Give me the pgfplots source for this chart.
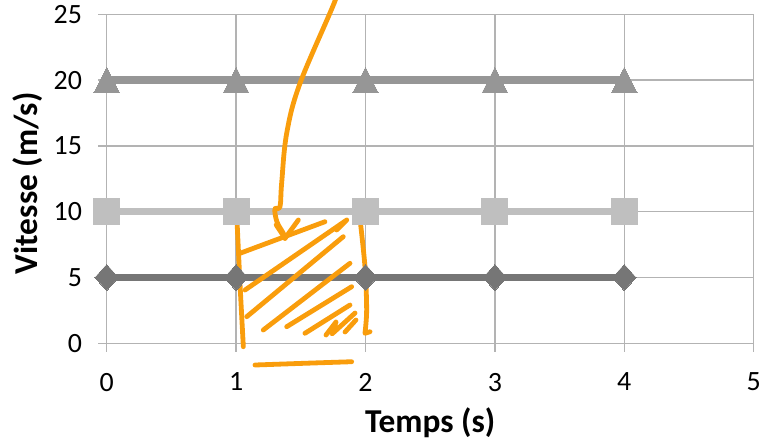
\documentclass[border=0pt]{standalone}
\usepackage{fontspec}
\setmainfont{Carlito}
\usepackage{pgfplots}
\pgfplotsset{compat=1.18}

\definecolor{gridgray}{HTML}{B3B3B3}
\definecolor{trigray}{HTML}{969696}
\definecolor{sqgray}{HTML}{BFBFBF}
\definecolor{diagray}{HTML}{767676}
\definecolor{pen}{HTML}{F99D0C}

\begin{document}
\begin{tikzpicture}
\begin{axis}[
  name=ax,
  scale only axis,
  width=647bp, height=329bp,
  xmin=0, xmax=5, ymin=0, ymax=25,
  xtick={0,...,5}, ytick={0,5,...,25},
  tick pos=left,
  tick align=outside,
  major tick length=8.5bp,
  grid=major,
  grid style={gridgray, line width=1.3bp},
  axis line style={gridgray, line width=1.3bp},
  tick style={gridgray, line width=1.3bp},
  /pgf/number format/assume math mode=true,
  tick label style={font=\fontsize{28}{28}\selectfont, text=black},
  yticklabel style={inner sep=0pt, anchor=east, xshift=-16bp},
  xticklabel style={inner sep=0pt, anchor=north, yshift=-21bp},
  xlabel={Temps (s)},
  ylabel={Vitesse (m/s)},
  label style={font=\fontsize{33.5}{33.5}\selectfont\bfseries},
  xlabel style={at={(axis description cs:0.5,-0.2696)}, anchor=base},
  ylabel style={at={(axis description cs:-0.1077,0.486)}, anchor=base},
  clip=false,
]
% constant speed, 20 m/s
\addplot[trigray, line width=7.5bp, mark=triangle*,
  mark options={solid, fill=trigray, draw=trigray, line width=0pt, xscale=0.87, yshift=-4.3bp},
  mark size=17bp]
  coordinates {(0,20) (1,20) (2,20) (3,20) (4,20)};
% constant speed, 10 m/s
\addplot[sqgray, line width=7.5bp, mark=square*,
  mark options={solid, fill=sqgray, draw=sqgray, line width=0pt},
  mark size=13bp]
  coordinates {(0,10) (1,10) (2,10) (3,10) (4,10)};
% constant speed, 5 m/s
\addplot[diagray, line width=7.5bp, mark=diamond*,
  mark options={solid, fill=diagray, draw=diagray, line width=0pt, xscale=1.2},
  mark size=13bp]
  coordinates {(0,5) (1,5) (2,5) (3,5) (4,5)};

% hand-drawn hatching of the area between t = 1 s and t = 2 s
\begin{scope}[pen, line width=4.8bp, line cap=round, line join=round]
  % arrow pointing into the area
  \draw plot[smooth, tension=0.6] coordinates {
    (1.80,27.5) (1.764,26.01) (1.494,19.76) (1.391,15.96) (1.352,12.16)
    (1.339,10.38) (1.300,10.21) (1.316,9.22) (1.365,8.36) (1.378,7.98)};
  \draw (1.378,7.98) -- (1.481,9.37);
  \draw (1.378,7.98) -- (1.310,9.00);
  % sides of the area
  \draw plot[smooth] coordinates {(1.005,9.75) (1.030,4.56) (1.056,-0.26)};
  \draw plot[smooth] coordinates {(1.957,9.50) (1.996,5.82) (2.009,2.53) (1.996,0.76)} -- (2.035,0.88);
  \draw plot[smooth] coordinates {(1.146,-1.65) (1.494,-1.53) (1.893,-1.40)};
  % diagonal strokes
  \draw (1.030,6.84) -- (1.687,9.24);
  \draw (1.069,4.05) -- (1.855,9.37) -- (1.777,8.61);
  \draw (1.082,2.02) -- (1.828,8.10);
  \draw (1.210,1.01) -- (1.880,6.08);
  \draw (1.391,1.26) -- (1.893,4.30);
  \draw (1.532,0.76) -- (1.880,2.91);
  \draw (1.695,0.63) -- (1.772,1.62) -- (1.741,0.71) -- (1.919,2.30);
  \draw (1.842,0.86) -- (1.926,1.77);
\end{scope}
\end{axis}
\pgfresetboundingbox
\path[use as bounding box] ([xshift=-106.7bp, yshift=-98.7bp]ax.south west) rectangle ++(763bp,442bp);
\end{tikzpicture}
\end{document}
